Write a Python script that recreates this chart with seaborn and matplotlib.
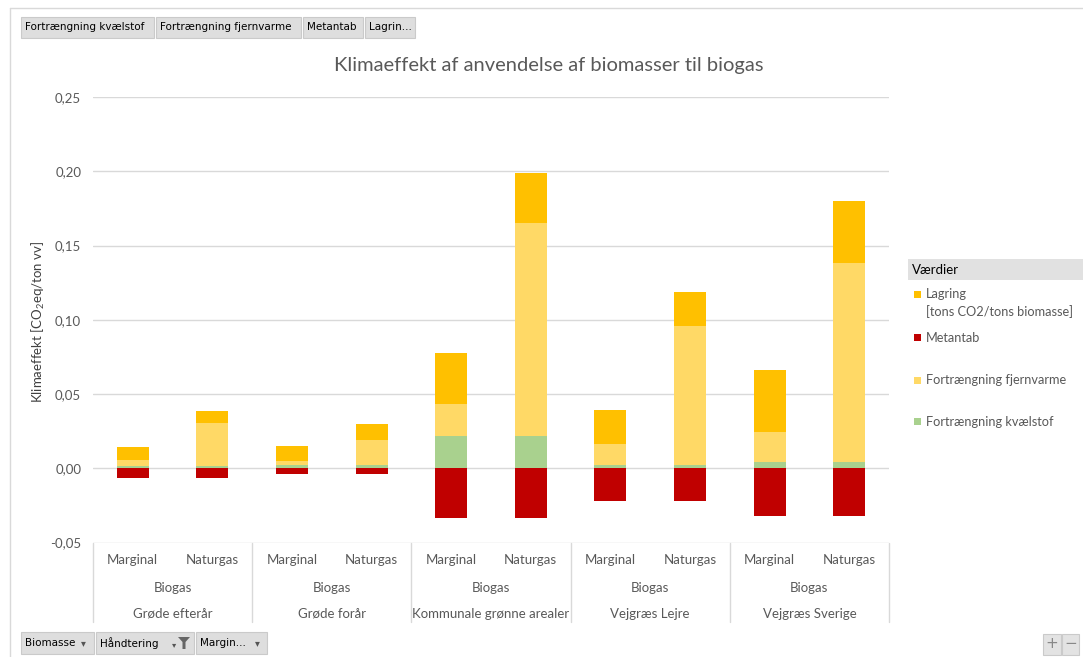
import numpy as np
import pandas as pd
import matplotlib
matplotlib.use("Agg")
import matplotlib.pyplot as plt
from matplotlib.patches import Rectangle, Polygon
from matplotlib.transforms import blended_transform_factory
from matplotlib.ticker import FuncFormatter
import seaborn as sns

# ---- data (tons CO2-eq per ton vv) ----
biomasse = ["Grøde efterår", "Grøde forår", "Kommunale grønne arealer",
            "Vejgræs Lejre", "Vejgræs Sverige"]
handtering = ["Biogas", "Biogas", "Biogas", "Biogas", "Biogas"]
scenarie = ["Marginal", "Naturgas"]

kvaelstof = [0.0017, 0.0017, 0.0025, 0.0025, 0.022, 0.022, 0.002, 0.002, 0.004, 0.004]
fjernvarme = [0.0040, 0.0288, 0.0025, 0.0169, 0.0215, 0.1430, 0.0146, 0.0937, 0.0207, 0.1345]
metantab = [-0.0064, -0.0064, -0.0040, -0.0040, -0.0333, -0.0333, -0.0220, -0.0220, -0.0320, -0.0320]
lagring = [0.0086, 0.0083, 0.0103, 0.0105, 0.0340, 0.0340, 0.0228, 0.0228, 0.0417, 0.0417]

serie_navne = ["Lagring\n[tons CO2/tons biomasse]", "Metantab",
               "Fortrængning fjernvarme", "Fortrængning kvælstof"]
farver = {"lag": "#FFC000", "met": "#C00000", "fj": "#FFD966", "kv": "#A9D18E"}

# ---- style ----
sns.set_theme(style="white")
plt.rcParams["font.family"] = ["Lato", "DejaVu Sans"]
plt.rcParams["mathtext.fontset"] = "custom"
plt.rcParams["mathtext.rm"] = "Lato"
plt.rcParams["mathtext.it"] = "Lato:italic"
plt.rcParams["mathtext.bf"] = "Lato:bold"

GREY_TXT = "#595959"
GRID = "#D9D9D9"

W, H = 1083, 657
fig = plt.figure(figsize=(W / 100, H / 100), dpi=100)


def fx(px):
    return px / W


def fy(py):
    return 1 - py / H


ax = fig.add_axes([fx(93), fy(542.6), 796 / W, (542.6 - 97) / H])

slots = [f"{b} / {s}" for b in biomasse for s in scenarie]
df = pd.DataFrame({"slot": slots, "kv": kvaelstof, "fj": fjernvarme,
                   "met": metantab, "lag": lagring})
df["kv_fj"] = df["kv"] + df["fj"]
df["total"] = df["kv_fj"] + df["lag"]

# stacked columns: draw cumulative heights from the top segment downwards
for col, key in [("total", "lag"), ("kv_fj", "fj"), ("kv", "kv"), ("met", "met")]:
    sns.barplot(data=df, x="slot", y=col, order=slots, color=farver[key],
                saturation=1, width=0.4, errorbar=None, linewidth=0, ax=ax)

ax.set_xlim(-0.5, 9.5)
ax.set_ylim(-0.05, 0.25)
ax.set_yticks([-0.05, 0.0, 0.05, 0.10, 0.15, 0.20, 0.25])
ax.yaxis.set_major_formatter(FuncFormatter(lambda v, p: f"{v:.2f}".replace(".", ",")))
ax.set_xticks(range(10))
ax.set_xticklabels([])
ax.set_xlabel("")
ax.set_ylabel("")
ax.tick_params(axis="both", length=0)
ax.tick_params(axis="y", pad=8.5, labelsize=9.5, labelcolor=GREY_TXT)
ax.grid(axis="y", color=GRID, lw=1)
ax.grid(axis="x", visible=False)
ax.set_axisbelow(True)
for s in ax.spines.values():
    s.set_visible(False)

# title and y label
fig.text(fx(549), fy(66), "Klimaeffekt af anvendelse af biomasser til biogas",
         ha="center", va="center", fontsize=14.5, color=GREY_TXT)
fig.text(fx(38), fy(322), "Klimaeffekt [CO$_2$eq/ton vv]", rotation=90,
         ha="center", va="center", fontsize=9.5, color="#404040")

# category table under the axis
tr = blended_transform_factory(ax.transData, fig.transFigure)
for xb in [-0.5, 1.5, 3.5, 5.5, 7.5, 9.5]:
    ax.plot([xb, xb], [fy(543), fy(622)], transform=tr, color=GRID, lw=1,
            clip_on=False)
for i, b in enumerate(biomasse):
    for j, s in enumerate(scenarie):
        ax.text(2 * i + j, fy(560), s, transform=tr, ha="center", va="center",
                fontsize=9.5, color=GREY_TXT)
    ax.text(2 * i + 0.5, fy(588), handtering[i], transform=tr, ha="center",
            va="center", fontsize=9.5, color=GREY_TXT)
    ax.text(2 * i + 0.5, fy(614), b, transform=tr, ha="center", va="center",
            fontsize=9.5, color=GREY_TXT)

# outer frame of the chart area
fig.add_artist(plt.Line2D([fx(10), fx(10)], [fy(8), 0], color=GRID, lw=1))
fig.add_artist(plt.Line2D([fx(10), 1], [fy(8), fy(8)], color=GRID, lw=1))


def button(x0, y0, x1, y1, label=None, size=7.5, face="#DEDEDE"):
    fig.add_artist(Rectangle((fx(x0), fy(y1)), (x1 - x0) / W, (y1 - y0) / H,
                             transform=fig.transFigure, facecolor=face,
                             edgecolor="#CACACA", lw=0.8))
    if label:
        fig.text(fx(x0 + 4), fy((y0 + y1) / 2), label, ha="left", va="center",
                 fontsize=size, color="black", family="DejaVu Sans")


# field buttons along the top
for x0, x1, lbl in [(21, 154, "Fortrængning kvælstof"),
                    (156, 301, "Fortrængning fjernvarme"),
                    (303, 363, "Metantab"),
                    (365, 415, "Lagrin...")]:
    button(x0, 17, x1, 38, lbl)

# field buttons along the bottom
for x0, x1, lbl in [(21, 94, "Biomasse"), (96, 194, "Håndtering"),
                    (196, 267, "Margin...")]:
    button(x0, 632, x1, 654, lbl)
for xa in [83, 257]:
    fig.text(fx(xa), fy(643), "▾", ha="center", va="center", fontsize=7,
             color="#555555", family="DejaVu Sans")
fig.text(fx(174), fy(645), "▾", ha="center", va="center", fontsize=6,
         color="#555555", family="DejaVu Sans")
fig.add_artist(Polygon([(fx(178), fy(637)), (fx(190), fy(637)), (fx(185.5), fy(642)),
                        (fx(185.5), fy(649)), (fx(182.5), fy(649)), (fx(182.5), fy(642))],
                       closed=True, transform=fig.transFigure,
                       facecolor="#666666", edgecolor="none"))

# zoom buttons
button(1043, 634, 1061, 655, face="#E3E3E3")
button(1062, 634, 1079, 655, face="#E3E3E3")
fig.text(fx(1052), fy(644), "+", ha="center", va="center", fontsize=11,
         color="#888888", family="DejaVu Sans")
fig.text(fx(1070.5), fy(644), "−", ha="center", va="center", fontsize=11,
         color="#888888", family="DejaVu Sans")

# legend
fig.add_artist(Rectangle((fx(908), fy(280)), (1083 - 908) / W, 21 / H,
                         transform=fig.transFigure, facecolor="#E1E1E1",
                         edgecolor="none"))
fig.text(fx(912), fy(270), "Værdier", ha="left", va="center", fontsize=9.5,
         color="black")
legend_rows = [(294.5, "lag", serie_navne[0]), (337.5, "met", serie_navne[1]),
               (380, "fj", serie_navne[2]), (421.5, "kv", serie_navne[3])]
for yc, key, name in legend_rows:
    fig.add_artist(Rectangle((fx(914), fy(yc + 3.5)), 7 / W, 7 / H,
                             transform=fig.transFigure, facecolor=farver[key],
                             edgecolor="none"))
    fig.text(fx(926), fy(yc - 6), name, ha="left", va="top", fontsize=9.2,
             color=GREY_TXT, linespacing=1.45)

fig.savefig("out.png", dpi=100)
